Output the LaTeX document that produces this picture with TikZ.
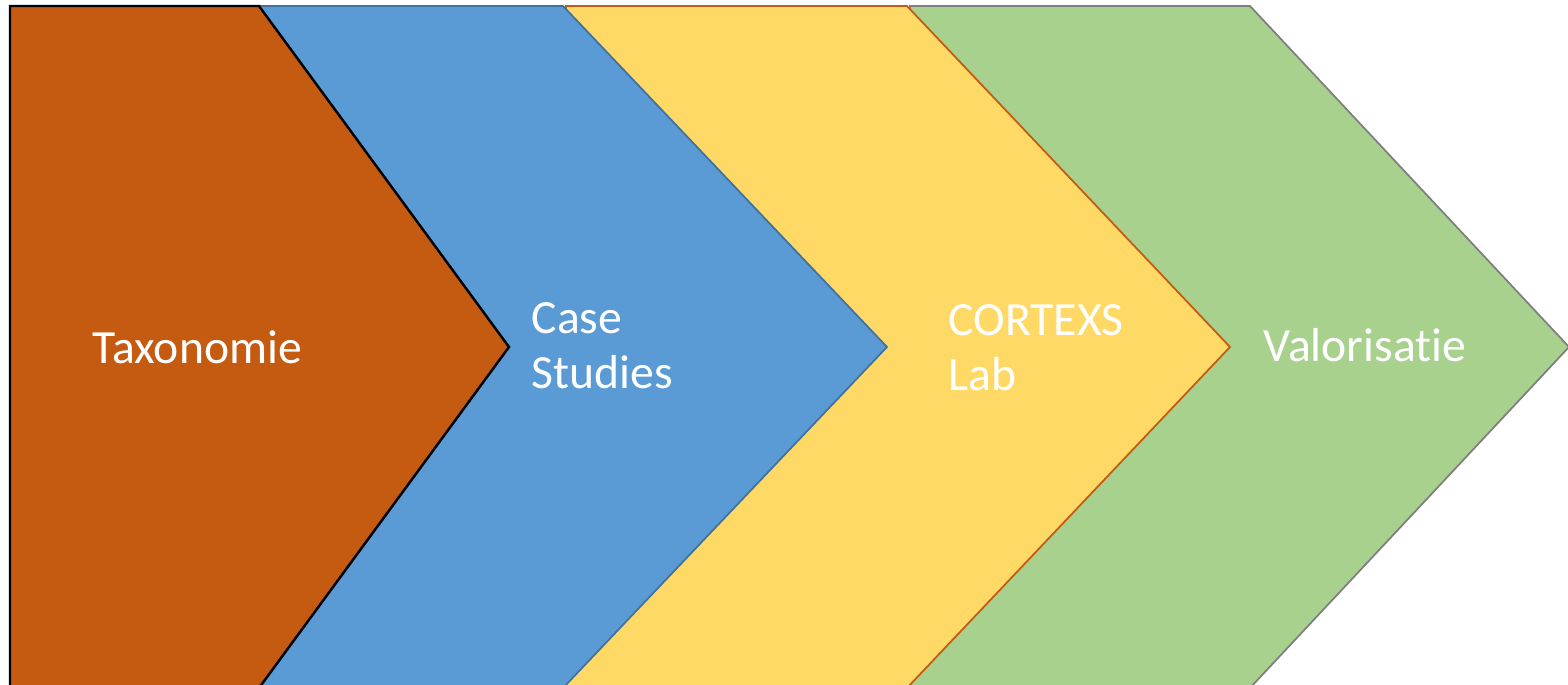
\documentclass[tikz,border=0pt]{standalone}
\usepackage{fontspec}
\setmainfont{Carlito}[RawFeature=-liga]
\usepackage{tikz}
\usetikzlibrary{positioning}

\definecolor{taxfill}{HTML}{C55A11}
\definecolor{casefill}{HTML}{5B9BD5}
\definecolor{caseline}{HTML}{41719C}
\definecolor{labfill}{HTML}{FFD966}
\definecolor{labline}{HTML}{C55A11}
\definecolor{valfill}{HTML}{A9D18E}
\definecolor{valline}{HTML}{7F7F7F}

\begin{document}
\begin{tikzpicture}
    [
        x=0.01cm, y=-0.01cm,
        chevron/.style={line join=miter, line width=0.5pt},
        label_text/.style={text=white, align=left, anchor=base west, inner sep=0pt, font=\fontsize{13.55}{15.7}\selectfont},
    ]
        \useasboundingbox (0,0) rectangle (1568,685) ;
        % back to front
        \draw[chevron, fill=valfill, draw=valline] (910,6) -- (1250,6) -- (1569,347) -- (1250,688) -- (910,688) -- cycle ;
        \draw[chevron, fill=labfill, draw=labline] (566,6) -- (907,6) -- (1230,347) -- (907,688) -- (566,688) -- cycle ;
        \draw[chevron, fill=casefill, draw=caseline] (220,6) -- (563,6) -- (887,347) -- (563,688) -- (220,688) -- cycle ;
        \draw[chevron, fill=taxfill, draw=black, line width=0.7pt] (10,6) -- (259,6) -- (509,347) -- (259,688) -- (10,688) -- cycle ;
        % base of a two-line label is its last line
        \node[label_text] (tax) at (92,364) {Taxonomie} ;
        \node[label_text] (cases) at (531,389) {Case\\Studies} ;
        \node[label_text] (lab) at (948,391) {CORTEXS\\Lab} ;
        \node[label_text] (val) at (1263,362) {Valorisatie} ;
    \end{tikzpicture}
\end{document}
